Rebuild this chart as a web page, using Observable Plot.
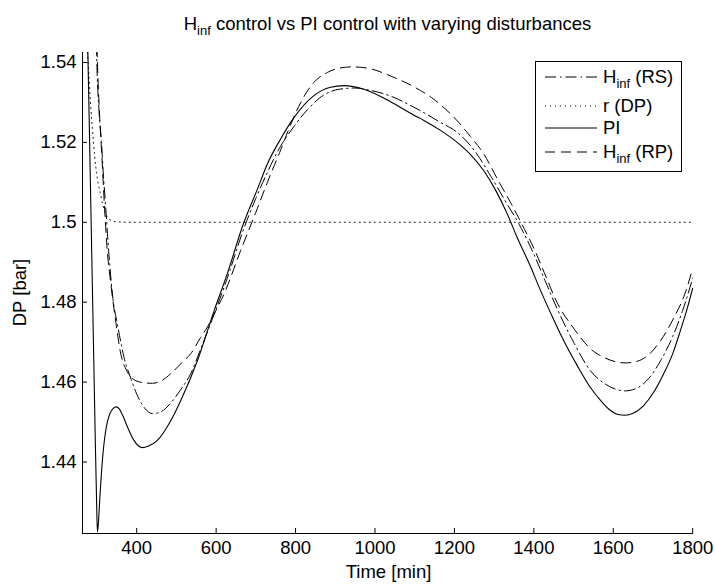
<!DOCTYPE html>
<html><head><meta charset="utf-8">
<script src="https://cdn.jsdelivr.net/npm/d3@7"></script>
<script src="https://cdn.jsdelivr.net/npm/@observablehq/plot@0.6"></script>
<style>
body{margin:0;background:#fff;}
#chart svg{display:block;}
</style></head><body><div id="chart"></div>
<script>
// ---- data ----
const titleHead = "H";
const titleSub = "inf";
const titleTail = " control vs PI control with varying disturbances";
const xLabel = "Time [min]";
const yLabel = "DP [bar]";
const xTicks = [400, 600, 800, 1000, 1200, 1400, 1600, 1800];
const yTicks = [1.44, 1.46, 1.48, 1.5, 1.52, 1.54];
const xDomain = [263.5, 1802];
const yDomain = [1.4221, 1.5425];

const seriesNames = ["RS", "DP", "PI", "RP"];
const legendHead = ["H", "r (DP)", "PI", "H"];
const legendSub = ["inf", "", "", "inf"];
const legendTail = [" (RS)", "", "", " (RP)"];

// PI control (solid)
const piT = [264, 270, 274, 277, 282, 287, 292, 296, 299, 301, 303, 306, 310, 315, 320, 326, 333, 341, 349, 356, 364, 377, 393, 414, 430, 452, 486, 511, 553, 595, 628, 670, 704, 729, 762, 796, 846, 888, 922, 972, 1039, 1098, 1123, 1165, 1207, 1240, 1274, 1305, 1333, 1358, 1390, 1417, 1445, 1475, 1510, 1542, 1570, 1593, 1612, 1630, 1650, 1677, 1700, 1727, 1750, 1769, 1785, 1800];
const piV = [1.62, 1.575, 1.553, 1.5425, 1.517, 1.491, 1.465, 1.444, 1.430, 1.4225, 1.4240, 1.4290, 1.4355, 1.4420, 1.4465, 1.4500, 1.4522, 1.4534, 1.4538, 1.4533, 1.4518, 1.4487, 1.4454, 1.4436, 1.4440, 1.4454, 1.4504, 1.4554, 1.4654, 1.4779, 1.4871, 1.5000, 1.5083, 1.5146, 1.5208, 1.5262, 1.5317, 1.5338, 1.5342, 1.5333, 1.5302, 1.5268, 1.5255, 1.5230, 1.5200, 1.5170, 1.5129, 1.5078, 1.5021, 1.4962, 1.4893, 1.4829, 1.4767, 1.4704, 1.4640, 1.4587, 1.4552, 1.4529, 1.4519, 1.4517, 1.4522, 1.4542, 1.4572, 1.4621, 1.4672, 1.4729, 1.4780, 1.4835];

// H_inf (RS) (dash-dot)
const rsT = [296, 299, 305, 311, 316, 322, 330, 340, 351, 360, 368, 385, 400, 420, 440, 460, 485, 510, 536, 560, 595, 628, 670, 700, 729, 762, 796, 830, 870, 910, 950, 990, 1039, 1098, 1165, 1207, 1250, 1290, 1330, 1363, 1400, 1430, 1458, 1500, 1542, 1580, 1610, 1630, 1660, 1690, 1720, 1750, 1775, 1800];
const rsV = [1.56, 1.5425, 1.528, 1.5204, 1.512, 1.5037, 1.4920, 1.481, 1.4746, 1.4700, 1.4662, 1.4610, 1.4570, 1.4535, 1.4521, 1.4525, 1.4547, 1.4580, 1.4621, 1.4680, 1.4770, 1.4860, 1.4985, 1.5060, 1.5125, 1.5190, 1.5240, 1.5282, 1.5318, 1.5333, 1.5336, 1.5330, 1.5316, 1.5288, 1.5250, 1.5225, 1.5180, 1.5118, 1.5050, 1.4995, 1.4920, 1.4850, 1.4785, 1.4700, 1.4629, 1.4595, 1.4581, 1.4578, 1.4585, 1.4610, 1.4655, 1.4715, 1.4780, 1.4860];

// reference r (DP) (dotted)
const dpT = [264, 270, 276, 285, 297, 310, 322, 335, 350, 380, 600, 1000, 1400, 1800];
const dpV = [1.56, 1.551, 1.5425, 1.528, 1.5138, 1.5065, 1.5020, 1.5005, 1.5001, 1.5, 1.5, 1.5, 1.5, 1.5];

// H_inf (RP) (dashed)
const rpT = [297, 300.5, 306, 312, 318, 325, 335, 348, 360, 375, 395, 420, 440, 465, 490, 515, 536, 560, 578, 600, 620, 662, 700, 729, 760, 790, 813, 846, 880, 910, 943, 980, 1047, 1100, 1148, 1207, 1240, 1274, 1310, 1340, 1370, 1400, 1430, 1458, 1500, 1542, 1580, 1610, 1630, 1660, 1693, 1720, 1752, 1780, 1800];
const rpV = [1.56, 1.5425, 1.528, 1.517, 1.5055, 1.494, 1.4845, 1.4746, 1.4670, 1.4628, 1.4605, 1.4598, 1.4597, 1.4605, 1.4625, 1.4650, 1.4671, 1.4710, 1.4738, 1.4780, 1.4821, 1.4930, 1.5025, 1.5100, 1.5175, 1.5250, 1.5300, 1.5350, 1.5375, 1.5386, 1.5389, 1.5386, 1.5363, 1.5338, 1.5308, 1.5254, 1.5215, 1.5171, 1.5105, 1.5052, 1.4995, 1.4935, 1.4865, 1.4800, 1.4735, 1.4684, 1.4660, 1.4650, 1.4648, 1.4652, 1.4672, 1.4705, 1.4760, 1.4820, 1.4885];

// ---- build ----
const FONT = "'Liberation Sans', Arial, Helvetica, sans-serif";
const FS = 18.5, SUB = 13;
const toRows = (name, ts, vs) => ts.map((t, i) => ({series: name, t, v: vs[i]}));
const rows = {
  RS: toRows("RS", rsT, rsV),
  DP: toRows("DP", dpT, dpV),
  PI: toRows("PI", piT, piV),
  RP: toRows("RP", rpT, rpV)
};
const dash = {RS: "11,4,1.5,4", DP: "1,4", PI: null, RP: "10,6"};

const W = 715, H = 584;
const plot = Plot.plot({
  width: W, height: H,
  marginLeft: 82, marginRight: 22, marginTop: 52, marginBottom: 51,
  style: {fontFamily: FONT, fontSize: FS + "px", background: "white", color: "black"},
  x: {domain: xDomain},
  y: {domain: yDomain},
  marks: [
    ...seriesNames.map(s => Plot.line(rows[s], {
      x: "t", y: "v", stroke: "black", strokeWidth: s === "PI" ? 1.1 : 1,
      strokeDasharray: dash[s] || undefined, curve: "monotone-x", clip: true
    })),
    Plot.ruleX([xDomain[0]], {stroke: "black", strokeWidth: 1}),
    Plot.ruleY([yDomain[0]], {stroke: "black", strokeWidth: 1}),
    Plot.axisX({ticks: xTicks, tickSize: -5, tickPadding: 12, tickFormat: d => String(d), label: null, stroke: "black", fill: "black"}),
    Plot.axisY({ticks: yTicks, tickSize: -5, tickPadding: 11, tickFormat: d => String(d), label: null, stroke: "black", fill: "black"})
  ]
});
document.getElementById("chart").appendChild(plot);

// ---- annotations: title, axis labels, legend ----
const svg = d3.select(plot);
const x0 = 82, x1 = W - 22, y0 = 52, y1 = H - 51;
const cx = (x0 + x1) / 2;

const title = svg.append("text")
  .attr("x", cx).attr("y", 30).attr("text-anchor", "middle")
  .attr("font-family", FONT).attr("font-size", FS).attr("fill", "black");
title.append("tspan").text(titleHead);
title.append("tspan").attr("dy", 5).attr("font-size", SUB).text(titleSub);
title.append("tspan").attr("dy", -5).text(titleTail);

svg.append("text").attr("x", cx + 1).attr("y", 578).attr("text-anchor", "middle")
  .attr("font-family", FONT).attr("font-size", FS).attr("fill", "black").text(xLabel);
svg.append("text").attr("transform", `translate(26,${(y0 + y1) / 2}) rotate(-90)`)
  .attr("text-anchor", "middle").attr("font-family", FONT).attr("font-size", FS)
  .attr("fill", "black").text(yLabel);

const lg = svg.append("g");
const bx = 535.5, by = 61.5, bw = 146, bh = 110;
lg.append("rect").attr("x", bx).attr("y", by).attr("width", bw).attr("height", bh)
  .attr("fill", "white").attr("stroke", "black").attr("stroke-width", 1);
const rowY = [77, 106, 128, 152];
seriesNames.forEach((s, i) => {
  const ln = lg.append("line").attr("x1", 545).attr("x2", 597)
    .attr("y1", rowY[i]).attr("y2", rowY[i]).attr("stroke", "black").attr("stroke-width", 1);
  if (dash[s]) ln.attr("stroke-dasharray", dash[s]);
  const t = lg.append("text").attr("x", 603).attr("y", rowY[i] + 6)
    .attr("text-anchor", "start")
    .attr("font-family", FONT).attr("font-size", FS).attr("fill", "black");
  t.append("tspan").text(legendHead[i]);
  if (legendSub[i]) {
    t.append("tspan").attr("dy", 5).attr("font-size", SUB).text(legendSub[i]);
    t.append("tspan").attr("dy", -5).text(legendTail[i]);
  }
});
</script></body></html>
